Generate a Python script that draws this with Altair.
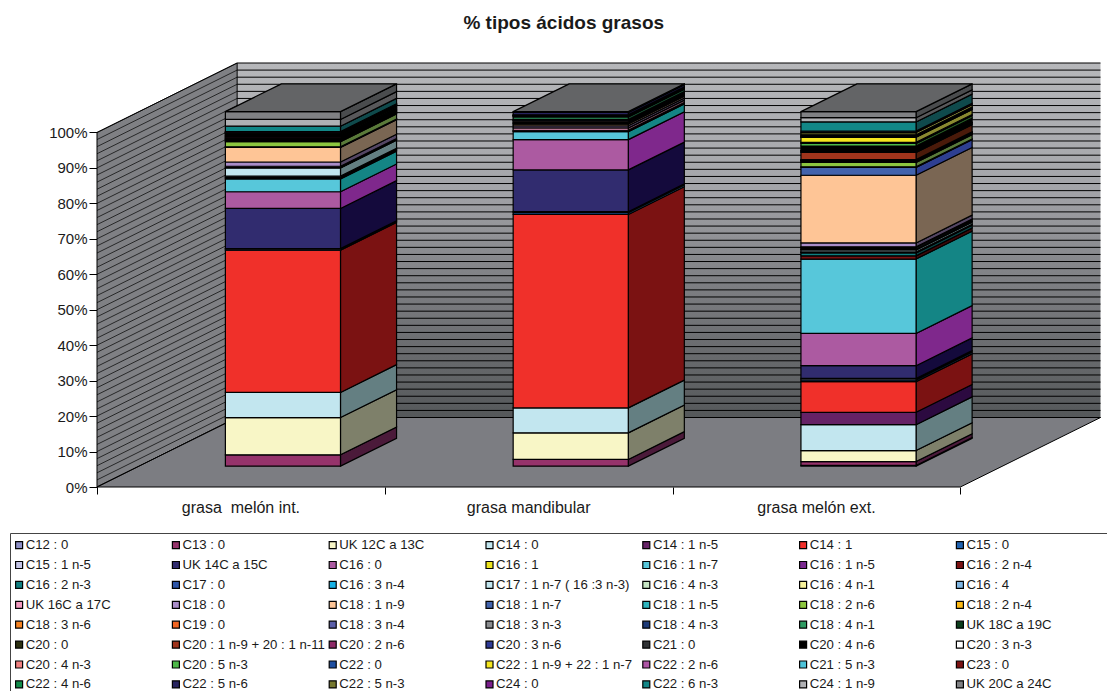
import altair as alt
import pandas as pd

# Fatty-acid series in stacking order (bottom of each column first)
series = [
    "C12 : 0", "C13 : 0", "UK 12C a 13C", "C14 : 0", "C14 : 1 n-5", "C14 : 1", "C15 : 0",
    "C15 : 1 n-5", "UK 14C a 15C", "C16 : 0", "C16 : 1", "C16 : 1 n-7", "C16 : 1 n-5", "C16 : 2 n-4",
    "C16 : 2 n-3", "C17 : 0", "C16 : 3 n-4", "C17 : 1 n-7 ( 16 :3 n-3)", "C16 : 4 n-3", "C16 : 4 n-1", "C16 : 4",
    "UK 16C a 17C", "C18 : 0", "C18 : 1 n-9", "C18 : 1 n-7", "C18 : 1 n-5", "C18 : 2 n-6", "C18 : 2 n-4",
    "C18 : 3 n-6", "C19 : 0", "C18 : 3 n-4", "C18 : 3 n-3", "C18 : 4 n-3", "C18 : 4 n-1", "UK 18C a 19C",
    "C20 : 0", "C20 : 1 n-9 + 20 : 1 n-11", "C20 : 2 n-6", "C20 : 3 n-6", "C21 : 0", "C20 : 4 n-6", "C20 : 3 n-3",
    "C20 : 4 n-3", "C20 : 5 n-3", "C22 : 0", "C22 : 1 n-9 + 22 : 1 n-7", "C22 : 2 n-6", "C21 : 5 n-3", "C23 : 0",
    "C22 : 4 n-6", "C22 : 5 n-6", "C22 : 5 n-3", "C24 : 0", "C22 : 6 n-3", "C24 : 1 n-9", "UK 20C a 24C",
]

front_colors = [
    "#8D8FC6", "#96336B", "#F8F6C6", "#C2E6EF", "#662266", "#F0302A", "#1F62B0",
    "#C4C4E6", "#312C6F", "#AC5AA1", "#EDE41E", "#57C7DA", "#7B2A90", "#7A1010",
    "#0F7F80", "#2D55A8", "#17B2E5", "#C2E6EF", "#C6E5C4", "#F6F19A", "#7FB5E2",
    "#F29AC0", "#A98CC8", "#FEC596", "#4263AD", "#2EB5BE", "#8CC63F", "#FDB913",
    "#F58220", "#F26522", "#5B5FA8", "#8A8C8E", "#1D3A78", "#2E9B62", "#0B3D1A",
    "#2C3010", "#A0341C", "#8E2A66", "#2E3A96", "#303234", "#000000", "#FFFFFF",
    "#F08080", "#4DB848", "#1F4FA0", "#F5E61E", "#AE55A5", "#4DC3DA", "#7A1010",
    "#128C4A", "#27235F", "#76782E", "#7B1E8C", "#128787", "#B0B1B4", "#808184",
]

side_colors = [
    "#464763", "#4B1A3A", "#7E806A", "#647F82", "#2C0A40", "#7B1212", "#1F4E79",
    "#626273", "#140A3C", "#7F288C", "#76720F", "#148585", "#3D1548", "#3D0808",
    "#0A4445", "#162A54", "#0B5972", "#647F82", "#637262", "#7B784D", "#3F5A71",
    "#794D60", "#544664", "#7A6653", "#2E3F91", "#175A5F", "#5A7A3A", "#7E5C09",
    "#7A4110", "#793211", "#2D2F54", "#454647", "#0E1D3C", "#174D31", "#051E0D",
    "#161808", "#4A1A0A", "#471533", "#171D4B", "#18191A", "#000000", "#7F7F7F",
    "#784040", "#265C24", "#0F2750", "#8A8A30", "#572A52", "#26616D", "#3D0808",
    "#1A7A40", "#13112F", "#88893A", "#3D0F46", "#0F4A4C", "#58585A", "#4A4C4E",
]

# Percent composition of each sample, one value per series
melon_int = [
    0, 3.2, 10.5, 7.1, 0, 40.1, 0.3,
    0.2, 11.3, 4.7, 0, 3.6, 0, 0,
    0.3, 0.3, 0.2, 2.3, 0, 0, 0.1,
    0.4, 1.2, 4.1, 0.1, 0.1, 1.4, 0,
    0.2, 0, 0.2, 0.2, 0.2, 0, 0.2,
    0.1, 0.2, 0.2, 0.2, 0, 0.2, 0,
    0, 0.3, 0, 0.1, 0, 0.1, 0,
    0.1, 0.1, 0.1, 0.2, 1.5, 1.9, 2.2,
]
mandibular = [
    0, 1.9, 7.5, 7.05, 0, 54.6, 0.5,
    0.3, 11.8, 8.55, 0, 2.25, 0, 0.2,
    0.2, 0, 0, 0, 0, 0, 0,
    0.65, 0.6, 0.5, 0.2, 0, 0.2, 0,
    0.4, 0, 0.2, 0.1, 0.2, 0.7, 0.2,
    0.1, 0.1, 0.05, 0.05, 0, 0.1, 0,
    0, 0, 0, 0, 0, 0, 0,
    0, 0.7, 0, 0.1, 0, 0, 0.1,
]
melon_ext = [
    0.2, 1.1, 3.1, 7.3, 3.5, 8.65, 0.5,
    0.4, 3.6, 9.1, 0, 21.0, 0, 0.9,
    0.8, 0.2, 0.1, 0.55, 0.2, 0.1, 0.4,
    0.2, 1.1, 19.1, 2.2, 0.2, 1.2, 0,
    0.2, 0, 0.2, 0.1, 0.1, 0, 0.1,
    0.1, 2.05, 0.2, 0.3, 0.1, 1.2, 0,
    0, 0.75, 0.3, 1.4, 0.1, 0.1, 0,
    0.3, 0.2, 0.65, 0.4, 2.6, 1.2, 1.7,
]
samples = ["grasa \u00a0melón int.", "grasa mandibular", "grasa melón ext."]
sample_values = [melon_int, mandibular, melon_ext]

value_ticks = list(range(0, 101, 10))
grid_levels = list(range(0, 101, 2))
category_ticks = [0, 1, 2, 3]

# Oblique projection: walking the full depth of the box moves a point
# this far along the category axis and along the percent axis.
DEPTH_X = 0.487
DEPTH_Y = 19.6
GAP = 0.3
BAR = 0.4


def sx(cat, depth):
    return cat + depth * DEPTH_X


def sy(pct, depth):
    return pct + depth * DEPTH_Y


x_scale = alt.Scale(domain=[0, 3 + DEPTH_X], nice=False, zero=False)
y_scale = alt.Scale(domain=[0, 100 + DEPTH_Y], nice=False, zero=False)
x_axis = alt.Axis(values=category_ticks, labels=False, domain=False, grid=False, tickSize=7,
                  tickColor="black", tickWidth=1, title=None)
y_axis = alt.Axis(values=value_ticks, labelExpr="datum.value + '%'", domain=False, grid=False,
                  tickSize=8, tickColor="black", tickWidth=1, labelFont="Liberation Sans", labelFontSize=15,
                  labelColor="#1a1a1a", labelPadding=2, title=None)


def X():
    return alt.X("x:Q", scale=x_scale, axis=x_axis)


def Y():
    return alt.Y("y:Q", scale=y_scale, axis=y_axis, stack=None)


X2 = alt.X2("x2:Q")
Y2 = alt.Y2("y2:Q")

front_rows, side_rows, top_rows = [], [], []
for b, values in enumerate(sample_values):
    total = sum(values)
    cum = 0.0
    x0, x1 = b + GAP, b + GAP + BAR
    d0, d1 = GAP, GAP + BAR
    for s, v in enumerate(values):
        if v == 0:
            continue
        lo = cum / total * 100
        cum += v
        hi = cum / total * 100
        front_rows.append(dict(series=series[s], x=sx(x0, d0), x2=sx(x1, d0), y=sy(lo, d0), y2=sy(hi, d0)))
        for d in (d0, d1):
            side_rows.append(dict(key=f"{b}-{s}", side=side_colors[s], x=sx(x1, d), y=sy(lo, d), y2=sy(hi, d)))
    for d in (d0, d1):
        top_rows.append(dict(bar=b, y=sy(100, d), x=sx(x0, d), x2=sx(x1, d)))

front_df = pd.DataFrame(front_rows)
side_df = pd.DataFrame(side_rows)
top_df = pd.DataFrame(top_rows)

# Box walls and floor
back_wall = alt.Chart(pd.DataFrame([dict(x=sx(0, 1), x2=sx(3, 1), y=sy(0, 1), y2=sy(100, 1))])).mark_rect(
    color=alt.Gradient(
        gradient="linear",
        stops=[
            alt.GradientStop(color="#B6B7BA", offset=0),
            alt.GradientStop(color="#A4A5A9", offset=0.35),
            alt.GradientStop(color="#7E7F83", offset=0.62),
            alt.GradientStop(color="#55585A", offset=1),
        ],
        x1=0, x2=0, y1=0, y2=1,
    )
).encode(x=X(), x2=X2, y=Y(), y2=Y2)

left_wall = alt.Chart(pd.DataFrame([dict(x=sx(0, d), y=sy(0, d), y2=sy(100, d)) for d in (0, 1)])).mark_area(
    color="#7F8084", stroke="black", strokeWidth=1
).encode(x=X(), y=Y(), y2=Y2)

floor = alt.Chart(pd.DataFrame([dict(y=sy(0, d), x=sx(0, d), x2=sx(3, d)) for d in (0, 1)])).mark_area(
    orient="horizontal", color="#7C7D82", stroke="black", strokeWidth=1
).encode(y=Y(), x=X(), x2=X2)

# 2 % gridlines on both walls
back_grid = alt.Chart(pd.DataFrame([dict(x=sx(0, 1), x2=sx(3, 1), y=sy(v, 1)) for v in grid_levels])).mark_rule(
    color="black", strokeWidth=1
).encode(x=X(), x2=X2, y=Y())

left_grid = alt.Chart(pd.DataFrame(
    [dict(level=v, x=sx(0, d), y=sy(v, d)) for v in grid_levels for d in (0, 1)]
)).mark_line(color="black", strokeWidth=0.7).encode(x=X(), y=Y(), detail="level:N")

# The three stacked columns
sides = alt.Chart(side_df).mark_area(stroke="black", strokeWidth=1.2).encode(
    x=X(), y=Y(), y2=Y2, detail="key:N", fill=alt.Fill("side:N", scale=None, legend=None)
)

fronts = alt.Chart(front_df).mark_rect(stroke="black", strokeWidth=1.2).encode(
    x=X(), x2=X2, y=Y(), y2=Y2,
    color=alt.Color(
        "series:N",
        scale=alt.Scale(domain=series, range=front_colors),
        legend=alt.Legend(
            orient="none", direction="horizontal", legendX=-86.5, legendY=470.5, columns=7, title=None,
            gridAlign="all", columnPadding=0.8, rowPadding=5.9, padding=5, symbolLimit=0,
            symbolType="square", symbolSize=49, symbolStrokeColor="black", symbolStrokeWidth=1.2,
            symbolOffset=-3, labelFont="Liberation Sans", labelFontSize=13.2, labelColor="#1a1a1a", labelLimit=400,
            labelOffset=0, symbolOpacity=1,
        ),
    ),
)

tops = alt.Chart(top_df).mark_area(orient="horizontal", color="#636466", stroke="black", strokeWidth=1.2).encode(
    y=Y(), x=X(), x2=X2, detail="bar:N"
)

sample_labels = alt.Chart(pd.DataFrame(dict(name=samples, x=[0.5, 1.5, 2.5]))).mark_text(
    font="Liberation Sans", fontSize=16, color="#1a1a1a", baseline="middle"
).encode(x=X(), y=alt.value(445), text="name:N")

# Frame of the key: its top and left edges run off the page
key_top = alt.Chart(pd.DataFrame(dict(edge=["top"]))).mark_rule(color="#444444", strokeWidth=1).encode(
    x=alt.value(-86.5), x2=alt.value(1012), y=alt.value(470.5)
)
key_left = alt.Chart(pd.DataFrame(dict(edge=["left"]))).mark_rule(color="#444444", strokeWidth=1).encode(
    x=alt.value(-86.5), y=alt.value(470.5), y2=alt.value(630)
)

chart = alt.layer(
    back_wall, left_wall, floor, back_grid, left_grid, sides, fronts, tops, sample_labels, key_top, key_left
).properties(
    width=1003.5,
    height=424,
    autosize=alt.AutoSizeParams(type="none"),
    padding={"left": 97, "top": 63, "right": 6.5, "bottom": 204},
    title=alt.TitleParams(
        "% tipos ácidos grasos", font="Liberation Sans", fontSize=19, fontWeight="bold", color="#1a1a1a",
        anchor="middle", dx=-35, offset=28,
    ),
).configure_view(stroke=None)

chart.save("out.html", embed_options={"renderer": "svg", "actions": False})
